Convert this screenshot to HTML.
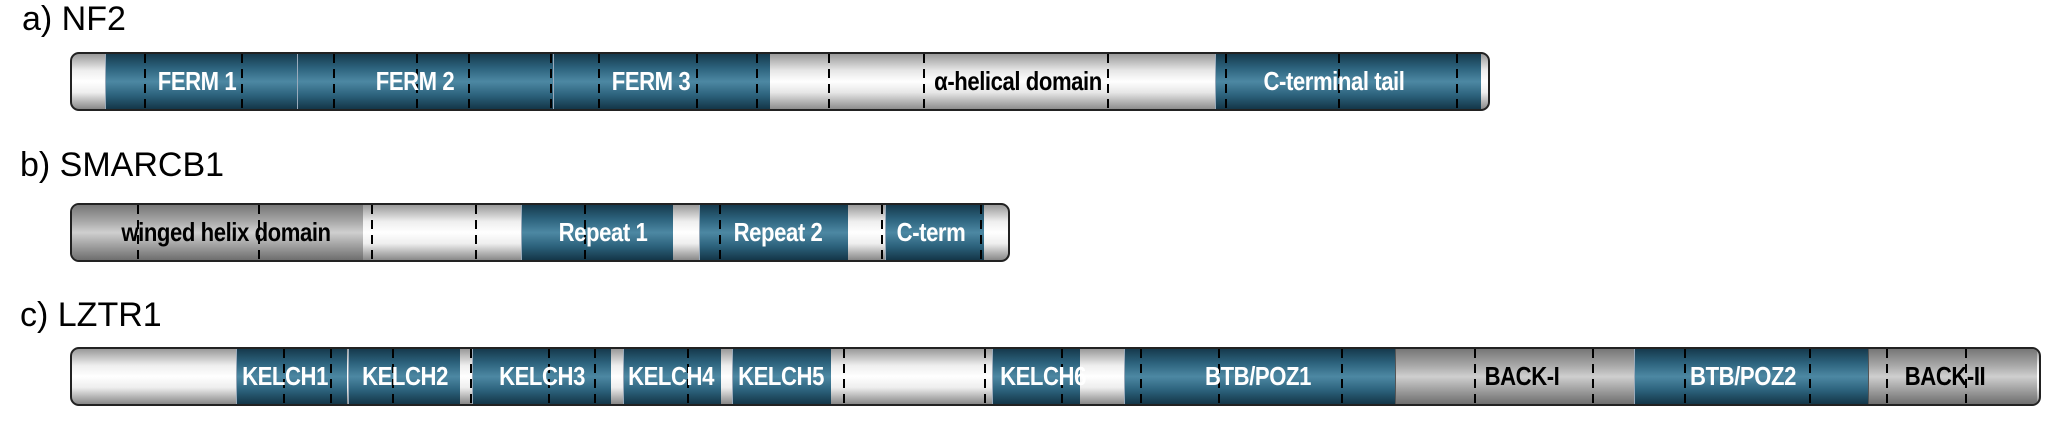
<!DOCTYPE html>
<html><head><meta charset="utf-8"><style>
body{margin:0;width:2056px;height:428px;background:#fff;position:relative;overflow:hidden;font-family:"Liberation Sans",sans-serif}
.t{position:absolute;font-size:34px;color:#000;line-height:1}
.bar{position:absolute;height:59px;border:2px solid #222;border-radius:9px;box-sizing:border-box;overflow:hidden;background:linear-gradient(#999,#eee 30%,#fff 50%,#eee 70%,#888)}
.s{position:absolute;top:0;bottom:0}
.b{background:linear-gradient(#163a4d,#2c627c 25%,#4d88a3 50%,#2c627c 75%,#143648);border-left:1px solid #9ab}
.w{background:linear-gradient(#9a9a9a,#e6e6e6 30%,#fff 50%,#e6e6e6 70%,#8e8e8e)}
.g{background:linear-gradient(#777,#a8a8a8 30%,#cfcfcf 50%,#a8a8a8 70%,#6e6e6e);border-left:1px solid #555}
.d{position:absolute;top:0;bottom:0;width:2px;background:repeating-linear-gradient(#000 0 9px,transparent 9px 15px)}
.l{position:absolute;top:0;height:55px;line-height:55px;font-weight:bold;font-size:26px;transform:translateX(-50%) scaleX(.85);white-space:nowrap;letter-spacing:-0.5px}
.lw{color:#fff}.lk{color:#000}
</style></head><body>
<div class="t" style="left:22px;top:2px">a) NF2</div>
<div class="t" style="left:20px;top:148px">b) SMARCB1</div>
<div class="t" style="left:20px;top:298px">c) LZTR1</div>

<div class="bar" style="left:70px;top:52px;width:1420px">
<div class="s b" style="left:33px;width:192px"></div>
<div class="s b" style="left:225px;width:256px"></div>
<div class="s b" style="left:481px;width:217px"></div>
<div class="s w" style="left:698px;width:446px"></div>
<div class="s b" style="left:1143px;width:265px"></div>
<div class="d" style="left:72px"></div><div class="d" style="left:169px"></div><div class="d" style="left:261px"></div><div class="d" style="left:344px"></div><div class="d" style="left:396px"></div><div class="d" style="left:478px"></div><div class="d" style="left:526px"></div><div class="d" style="left:624px"></div><div class="d" style="left:684px"></div><div class="d" style="left:756px"></div><div class="d" style="left:851px"></div><div class="d" style="left:1035px"></div><div class="d" style="left:1153px"></div><div class="d" style="left:1266px"></div><div class="d" style="left:1384px"></div>
<div class="l lw" style="left:125px">FERM 1</div>
<div class="l lw" style="left:343px">FERM 2</div>
<div class="l lw" style="left:579px">FERM 3</div>
<div class="l lk" style="left:946px">α-helical domain</div>
<div class="l lw" style="left:1262px">C-terminal tail</div>
</div>

<div class="bar" style="left:70px;top:203px;width:940px">
<div class="s g" style="left:0;width:291px;border-left:none"></div>
<div class="s b" style="left:449px;width:151px"></div>
<div class="s b" style="left:627px;width:148px"></div>
<div class="s b" style="left:813px;width:98px"></div>
<div class="d" style="left:65px"></div><div class="d" style="left:186px"></div><div class="d" style="left:299px"></div><div class="d" style="left:403px"></div><div class="d" style="left:512px"></div><div class="d" style="left:647px"></div><div class="d" style="left:809px"></div><div class="d" style="left:908px"></div>
<div class="l lk" style="left:154px">winged helix domain</div>
<div class="l lw" style="left:531px">Repeat 1</div>
<div class="l lw" style="left:706px">Repeat 2</div>
<div class="l lw" style="left:859px">C-term</div>
</div>

<div class="bar" style="left:70px;top:347px;width:1971px">
<div class="s b" style="left:164px;width:110px"></div>
<div class="s b" style="left:276px;width:111px"></div>
<div class="s b" style="left:400px;width:138px"></div>
<div class="s b" style="left:551px;width:97px"></div>
<div class="s b" style="left:660px;width:98px"></div>
<div class="s b" style="left:920px;width:87px"></div>
<div class="s b" style="left:1052px;width:271px"></div>
<div class="s g" style="left:1323px;width:239px"></div>
<div class="s b" style="left:1562px;width:234px"></div>
<div class="s g" style="left:1796px;width:168px"></div>
<div class="d" style="left:211px"></div><div class="d" style="left:258px"></div><div class="d" style="left:320px"></div><div class="d" style="left:398px"></div><div class="d" style="left:476px"></div><div class="d" style="left:522px"></div><div class="d" style="left:615px"></div><div class="d" style="left:771px"></div><div class="d" style="left:912px"></div><div class="d" style="left:989px"></div><div class="d" style="left:1068px"></div><div class="d" style="left:1146px"></div><div class="d" style="left:1269px"></div><div class="d" style="left:1402px"></div><div class="d" style="left:1520px"></div><div class="d" style="left:1612px"></div><div class="d" style="left:1737px"></div><div class="d" style="left:1814px"></div><div class="d" style="left:1893px"></div>
<div class="l lw" style="left:213px">KELCH1</div>
<div class="l lw" style="left:333px">KELCH2</div>
<div class="l lw" style="left:470px">KELCH3</div>
<div class="l lw" style="left:599px">KELCH4</div>
<div class="l lw" style="left:709px">KELCH5</div>
<div class="l lw" style="left:971px">KELCH6</div>
<div class="l lw" style="left:1186px">BTB/POZ1</div>
<div class="l lk" style="left:1450px">BACK-I</div>
<div class="l lw" style="left:1671px">BTB/POZ2</div>
<div class="l lk" style="left:1873px">BACK-II</div>
</div>
</body></html>
